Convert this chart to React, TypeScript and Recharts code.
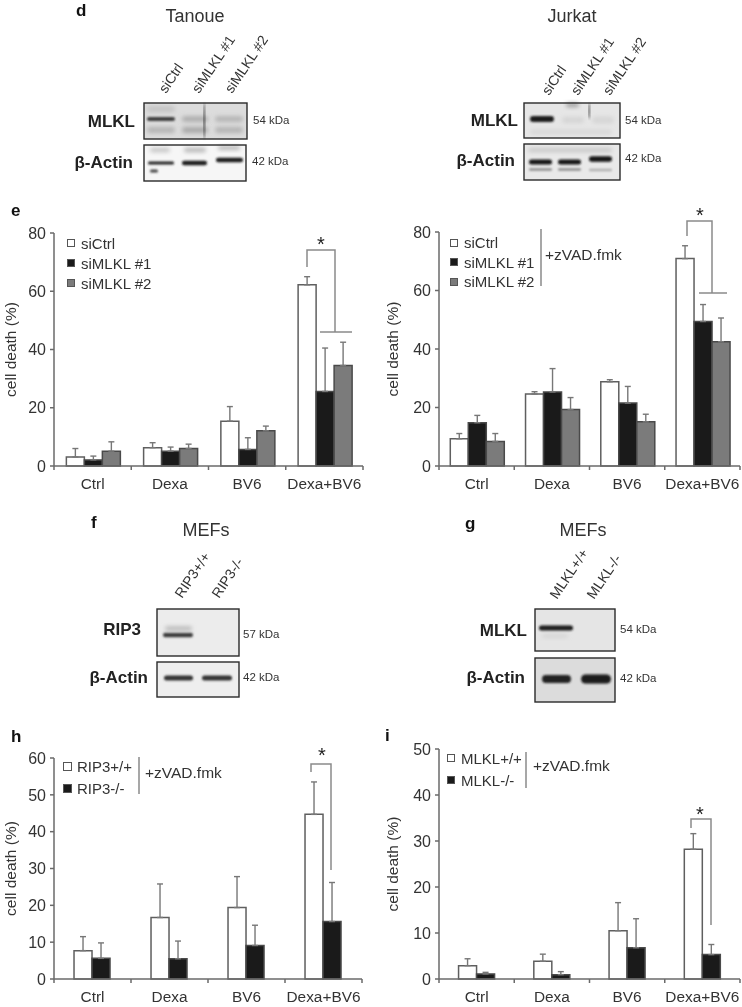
import React from "react";
import { BarChart, Bar, XAxis, YAxis, ErrorBar, Legend } from "recharts";

const FONT = "'Liberation Sans', Arial, sans-serif";
const TEXT = "#333";
const AXIS = "#6a6a6a";
const WHITE = "#ffffff";
const BLACK = "#1a1a1a";
const GREY = "#7b7b7b";

const categories = ["Ctrl", "Dexa", "BV6", "Dexa+BV6"];
const siNames = ["siCtrl", "siMLKL #1", "siMLKL #2"];
const ripNames = ["RIP3+/+", "RIP3-/-"];
const mlklNames = ["MLKL+/+", "MLKL-/-"];

// panel e, Tanoue
const tanoueCtrl = [3.1, 6.3, 15.4, 62.2];
const tanoueCtrlTop = [6, 8, 20.4, 65];
const tanoueM1 = [2.1, 5.1, 5.7, 25.6];
const tanoueM1Top = [3.4, 6.5, 9.7, 40.5];
const tanoueM2 = [5.1, 6, 12.1, 34.5];
const tanoueM2Top = [8.3, 7.5, 13.7, 42.5];

// panel e, Jurkat
const jurkatCtrl = [9.3, 24.6, 28.8, 70.9];
const jurkatCtrlTop = [11.1, 25.4, 29.5, 75.3];
const jurkatM1 = [14.8, 25.3, 21.5, 49.4];
const jurkatM1Top = [17.3, 33.3, 27.2, 55.2];
const jurkatM2 = [8.4, 19.3, 15.1, 42.5];
const jurkatM2Top = [11.1, 23.4, 17.7, 50.6];

// panel h
const ripWt = [7.7, 16.7, 19.4, 44.7];
const ripWtTop = [11.5, 25.8, 27.8, 53.5];
const ripKo = [5.6, 5.5, 9.1, 15.6];
const ripKoTop = [9.8, 10.3, 14.6, 26.2];

// panel i
const mlklWt = [2.9, 3.85, 10.5, 28.2];
const mlklWtTop = [4.4, 5.4, 16.6, 31.6];
const mlklKo = [1.1, 0.95, 6.8, 5.3];
const mlklKoTop = [1.45, 1.6, 13.1, 7.5];

const ticks80 = [0, 20, 40, 60, 80];
const ticks60 = [0, 10, 20, 30, 40, 50, 60];
const ticks50 = [0, 10, 20, 30, 40, 50];

type Series = { name: string; values: number[]; tops: number[]; fill: string };

function makeRows(series: Series[]) {
  return categories.map((cat, i) => {
    const row: any = { cat };
    series.forEach((s, k) => {
      row["v" + k] = s.values[i];
      row["e" + k] = [0, +(s.tops[i] - s.values[i]).toFixed(2)];
    });
    return row;
  });
}

function CatTick(props: any) {
  const { x, y, payload, half, last } = props;
  return (
    <g>
      <line x1={x - half} x2={x - half} y1={y} y2={y + 4} stroke={AXIS} strokeWidth={1.5} />
      {last === payload.value && (
        <line x1={x + half} x2={x + half} y1={y} y2={y + 4} stroke={AXIS} strokeWidth={1.5} />
      )}
      <text x={x} y={y + 23} textAnchor="middle" fontSize={15.4} fontFamily={FONT} fill={TEXT}>
        {payload.value}
      </text>
    </g>
  );
}

type PanelProps = {
  left: number;
  top: number;
  plotL: number;
  plotR: number;
  plotT: number;
  plotB: number;
  width: number;
  max: number;
  ticks: number[];
  series: Series[];
  gap: string;
  legend: { x: number; y: number; row: number; sq: number; textGap: number };
  labelX: number;
};

function Panel(p: PanelProps) {
  const height = p.plotB - p.top + 28;
  const half = (p.plotR - p.plotL) / 8;
  return (
    <div style={{ position: "absolute", left: p.left, top: p.top }}>
      <BarChart
        width={p.width}
        height={height}
        data={makeRows(p.series)}
        margin={{ left: 0, top: p.plotT - p.top, right: p.left + p.width - p.plotR, bottom: 0 }}
        barCategoryGap={p.gap}
        barGap={0}
      >
        <XAxis
          dataKey="cat"
          height={28}
          interval={0}
          tickSize={0}
          tickMargin={0}
          tickLine={false}
          axisLine={{ stroke: AXIS, strokeWidth: 1.5 }}
          tick={(t: any) => <CatTick {...t} half={half} last={categories[categories.length - 1]} />}
        />
        <YAxis
          width={p.plotL - p.left}
          domain={[0, p.max]}
          ticks={p.ticks}
          interval={0}
          tickSize={4}
          tickMargin={4}
          axisLine={{ stroke: AXIS, strokeWidth: 1.5 }}
          tickLine={{ stroke: AXIS, strokeWidth: 1.5 }}
          tick={{ fontSize: 16, fontFamily: FONT, fill: TEXT }}
          label={{
            value: "cell death (%)",
            angle: -90,
            position: "insideLeft",
            offset: p.labelX,
            textAnchor: "middle",
            style: { fontSize: 15.5, fontFamily: FONT, fill: TEXT, textAnchor: "middle" },
          }}
        />
        <Legend
          layout="vertical"
          align="center"
          verticalAlign="middle"
          wrapperStyle={{ left: p.legend.x - p.left, top: p.legend.y - p.top, width: 120 }}
          content={() => (
            <div style={{ fontFamily: FONT, fontSize: 15, color: TEXT }}>
              {p.series.map((s) => (
                <div
                  key={s.name}
                  style={{ display: "flex", alignItems: "center", height: p.legend.row, whiteSpace: "nowrap" }}
                >
                  <span
                    style={{
                      display: "inline-block",
                      boxSizing: "border-box",
                      width: p.legend.sq,
                      height: p.legend.sq,
                      background: s.fill,
                      border: "1.2px solid #555",
                      marginRight: p.legend.textGap,
                    }}
                  />
                  {s.name}
                </div>
              ))}
            </div>
          )}
        />
        {p.series.map((s, k) => (
          <Bar
            key={s.name}
            dataKey={"v" + k}
            name={s.name}
            fill={s.fill}
            stroke={s.fill === WHITE ? "#5f5f5f" : "#4a4a4a"}
            strokeWidth={1.5}
            isAnimationActive={false}
          >
            <ErrorBar dataKey={"e" + k} direction="y" width={3} stroke="#777" strokeWidth={1.4} isAnimationActive={false} />
          </Bar>
        ))}
      </BarChart>
    </div>
  );
}

type Band = [number, number, number, number, string, string?];

function Blot(props: { x: number; y: number; w: number; h: number; bg: string; bands: Band[] }) {
  const { x, y, w, h, bg, bands } = props;
  return (
    <g>
      <rect x={x} y={y} width={w} height={h} fill={bg} />
      {bands.map((b, i) => (
        <rect
          key={i}
          x={b[0]}
          y={b[1] - b[3] / 2}
          width={b[2] - b[0]}
          height={b[3]}
          rx={b[3] / 2}
          fill={b[4]}
          filter={`url(#${b[5] || "blurS"})`}
        />
      ))}
      <rect x={x} y={y} width={w} height={h} fill="none" stroke="#2a2a2a" strokeWidth={1.4} />
    </g>
  );
}

const T = (p: any) => <text fontFamily={FONT} fill={TEXT} {...p} />;
const Lane = ({ x, y, s }: { x: number; y: number; s: string }) => (
  <T x={x} y={y} fontSize={14} transform={`rotate(-56 ${x} ${y})`}>
    {s}
  </T>
);
const Kda = ({ x, y, s }: { x: number; y: number; s: string }) => (
  <T x={x} y={y} fontSize={11.5}>
    {s}
  </T>
);
const Name = ({ x, y, s }: { x: number; y: number; s: string }) => (
  <T x={x} y={y} fontSize={17} fontWeight="bold" textAnchor="end" fill="#222">
    {s}
  </T>
);
const Letter = ({ x, y, s }: { x: number; y: number; s: string }) => (
  <T x={x} y={y} fontSize={17} fontWeight="bold" fill="#111">
    {s}
  </T>
);
const Title = ({ x, y, s }: { x: number; y: number; s: string }) => (
  <T x={x} y={y} fontSize={18} textAnchor="middle">
    {s}
  </T>
);
const Star = ({ x, y }: { x: number; y: number }) => (
  <T x={x} y={y} fontSize={20} textAnchor="middle" fill="#222">
    *
  </T>
);
const Path = ({ d }: { d: string }) => <path d={d} fill="none" stroke="#8a8a8a" strokeWidth={1.5} />;
const ZVad = ({ x, y }: { x: number; y: number }) => (
  <T x={x} y={y} fontSize={15.5}>
    +zVAD.fmk
  </T>
);

function Overlay() {
  return (
    <svg width={742} height={1007} style={{ position: "absolute", left: 0, top: 0, pointerEvents: "none" }}>
      <defs>
        <filter id="blurS" x="-20%" y="-100%" width="140%" height="300%">
          <feGaussianBlur stdDeviation="0.9" />
        </filter>
        <filter id="blurL" x="-20%" y="-100%" width="140%" height="300%">
          <feGaussianBlur stdDeviation="2" />
        </filter>
      </defs>

      {/* d */}
      <Letter x={76} y={16} s="d" />
      <Title x={195} y={22} s="Tanoue" />
      <Title x={572} y={22} s="Jurkat" />
      <Lane x={166} y={94} s="siCtrl" />
      <Lane x={199} y={94} s="siMLKL #1" />
      <Lane x={232} y={94} s="siMLKL #2" />
      <Blot
        x={144}
        y={103}
        w={103}
        h={36}
        bg="#dcdcdc"
        bands={[
          [147, 119, 175, 4, "#3d3d3d"],
          [147, 109, 175, 6, "#c4c4c4", "blurL"],
          [182, 119, 208, 5, "#a8a8a8", "blurL"],
          [215, 119, 243, 5, "#b0b0b0", "blurL"],
          [147, 130, 175, 6, "#b4b4b4", "blurL"],
          [182, 130, 208, 6, "#a8a8a8", "blurL"],
          [215, 130, 243, 6, "#b4b4b4", "blurL"],
          [203.5, 121, 205, 36, "#333", "blurS"],
        ]}
      />
      <Blot
        x={144}
        y={145}
        w={102}
        h={36}
        bg="#f6f6f6"
        bands={[
          [148, 163, 174, 3, "#222"],
          [182, 163, 207, 4.5, "#1c1c1c"],
          [216, 160, 243, 4.5, "#1c1c1c"],
          [150, 150, 170, 4, "#c0c0c0", "blurL"],
          [184, 150, 206, 4, "#b0b0b0", "blurL"],
          [218, 148, 240, 3, "#a0a0a0", "blurL"],
          [150, 171, 158, 3, "#444", "blurS"],
        ]}
      />
      <Name x={135} y={127} s="MLKL" />
      <Name x={133} y={168} s="β-Actin" />
      <Kda x={253} y={124} s="54 kDa" />
      <Kda x={252} y={165} s="42 kDa" />

      <Lane x={549} y={96} s="siCtrl" />
      <Lane x={578} y={96} s="siMLKL #1" />
      <Lane x={610} y={96} s="siMLKL #2" />
      <Blot
        x={524}
        y={103}
        w={96}
        h={35}
        bg="#e6e6e6"
        bands={[
          [530, 119, 554, 6, "#1c1c1c"],
          [566, 105, 579, 4, "#9a9a9a", "blurL"],
          [562, 120, 584, 6, "#d4d4d4", "blurL"],
          [592, 120, 614, 7, "#d6d6d6", "blurL"],
          [588.5, 111, 589.8, 16, "#333", "blurS"],
          [530, 132, 612, 4, "#d4d4d4", "blurL"],
        ]}
      />
      <Blot
        x={524}
        y={144}
        w={96}
        h={36}
        bg="#e9e9e9"
        bands={[
          [529, 162, 552, 5, "#151515"],
          [558, 162, 581, 5, "#151515"],
          [589, 159, 612, 5.5, "#151515"],
          [529, 169.5, 552, 2.5, "#8c8c8c"],
          [558, 169.5, 581, 2.5, "#8c8c8c"],
          [589, 170, 612, 2.5, "#b0b0b0"],
          [528, 150, 612, 4, "#c6c6c6", "blurL"],
        ]}
      />
      <Name x={518} y={126} s="MLKL" />
      <Name x={515} y={166} s="β-Actin" />
      <Kda x={625} y={124} s="54 kDa" />
      <Kda x={625} y={162} s="42 kDa" />

      {/* e */}
      <Letter x={11} y={216} s="e" />
      <Path d="M307 267V250H335V332M320 332H352" />
      <Star x={321} y={251} />
      <Path d="M687 236V221H712V293M699 293H727" />
      <Star x={700} y={222} />
      <Path d="M541 229V286" />
      <ZVad x={545} y={260} />

      {/* f */}
      <Letter x={91} y={528} s="f" />
      <Title x={206} y={536} s="MEFs" />
      <Lane x={182} y={599} s="RIP3+/+" />
      <Lane x={219} y={599} s="RIP3-/-" />
      <Blot
        x={157}
        y={609}
        w={82}
        h={47}
        bg="#ececec"
        bands={[
          [163, 635, 193, 4.5, "#3a3a3a"],
          [165, 628.5, 192, 4, "#b4b4b4", "blurL"],
        ]}
      />
      <Blot
        x={157}
        y={662}
        w={82}
        h={35}
        bg="#eeeeee"
        bands={[
          [164, 678, 193, 5, "#333"],
          [202, 678, 232, 5, "#333"],
        ]}
      />
      <Name x={141} y={635} s="RIP3" />
      <Name x={148} y={683} s="β-Actin" />
      <Kda x={243} y={638} s="57 kDa" />
      <Kda x={243} y={681} s="42 kDa" />

      {/* g */}
      <Letter x={465} y={529} s="g" />
      <Title x={583} y={536} s="MEFs" />
      <Lane x={557} y={600} s="MLKL+/+" />
      <Lane x={594} y={600} s="MLKL-/-" />
      <Blot
        x={535}
        y={609}
        w={80}
        h={42}
        bg="#e5e5e5"
        bands={[
          [539, 628, 573, 5, "#1a1a1a"],
          [542, 636, 568, 3, "#d0d0d0", "blurL"],
        ]}
      />
      <Blot
        x={535}
        y={658}
        w={80}
        h={44}
        bg="#dcdcdc"
        bands={[
          [542, 679, 571, 8, "#222"],
          [581, 679, 611, 9, "#1c1c1c"],
        ]}
      />
      <Name x={527} y={636} s="MLKL" />
      <Name x={525} y={683} s="β-Actin" />
      <Kda x={620} y={633} s="54 kDa" />
      <Kda x={620} y={682} s="42 kDa" />

      {/* h */}
      <Letter x={11} y={742} s="h" />
      <Path d="M311 772V764H331V870" />
      <Star x={322} y={762} />
      <Path d="M139 757V794" />
      <ZVad x={145} y={778} />

      {/* i */}
      <Letter x={385} y={741} s="i" />
      <Path d="M691 828V819H711V925" />
      <Star x={700} y={821} />
      <Path d="M526 752V788" />
      <ZVad x={533} y={771} />
    </svg>
  );
}

const tanoueSeries: Series[] = [
  { name: siNames[0], values: tanoueCtrl, tops: tanoueCtrlTop, fill: WHITE },
  { name: siNames[1], values: tanoueM1, tops: tanoueM1Top, fill: BLACK },
  { name: siNames[2], values: tanoueM2, tops: tanoueM2Top, fill: GREY },
];
const jurkatSeries: Series[] = [
  { name: siNames[0], values: jurkatCtrl, tops: jurkatCtrlTop, fill: WHITE },
  { name: siNames[1], values: jurkatM1, tops: jurkatM1Top, fill: BLACK },
  { name: siNames[2], values: jurkatM2, tops: jurkatM2Top, fill: GREY },
];
const ripSeries: Series[] = [
  { name: ripNames[0], values: ripWt, tops: ripWtTop, fill: WHITE },
  { name: ripNames[1], values: ripKo, tops: ripKoTop, fill: BLACK },
];
const mlklSeries: Series[] = [
  { name: mlklNames[0], values: mlklWt, tops: mlklWtTop, fill: WHITE },
  { name: mlklNames[1], values: mlklKo, tops: mlklKoTop, fill: BLACK },
];

export default function App() {
  return (
    <div style={{ position: "absolute", left: 0, top: 0, width: 742, height: 1007, background: "#fff", overflow: "hidden", filter: "blur(0.35px)" }}>
      <Panel
        left={0}
        top={222}
        plotL={54}
        plotR={363}
        plotT={233}
        plotB={466}
        width={370}
        max={80}
        ticks={ticks80}
        series={tanoueSeries}
        gap="16%"
        legend={{ x: 67, y: 233, row: 20, sq: 8, textGap: 6 }}
        labelX={10}
      />
      <Panel
        left={385}
        top={222}
        plotL={439}
        plotR={740}
        plotT={232}
        plotB={466}
        width={357}
        max={80}
        ticks={ticks80}
        series={jurkatSeries}
        gap="15%"
        legend={{ x: 450, y: 233, row: 19.5, sq: 8, textGap: 6 }}
        labelX={7}
      />
      <Panel
        left={0}
        top={748}
        plotL={54}
        plotR={362}
        plotT={758}
        plotB={979}
        width={370}
        max={60}
        ticks={ticks60}
        series={ripSeries}
        gap="26%"
        legend={{ x: 63, y: 755, row: 22, sq: 9, textGap: 5 }}
        labelX={10}
      />
      <Panel
        left={385}
        top={740}
        plotL={439}
        plotR={740}
        plotT={749}
        plotB={979}
        width={357}
        max={50}
        ticks={ticks50}
        series={mlklSeries}
        gap="26%"
        legend={{ x: 447, y: 747, row: 22, sq: 8, textGap: 6 }}
        labelX={7}
      />
      <Overlay />
    </div>
  );
}
